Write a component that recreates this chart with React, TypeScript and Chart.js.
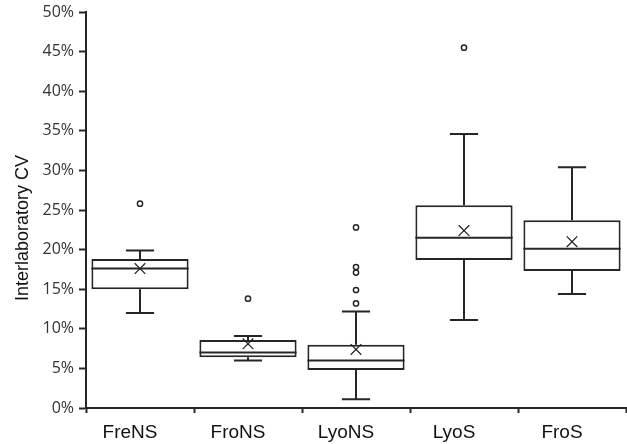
import { useEffect, useRef } from 'react';
import { Chart, registerables } from 'chart.js';

Chart.register(...registerables);

const categories = ['FreNS', 'FroNS', 'LyoNS', 'LyoS', 'FroS'];
const whiskerMin = [12.0, 6.0, 1.1, 11.1, 14.4];
const q1 = [15.0, 6.4, 4.8, 18.7, 17.3];
const median = [17.6, 7.0, 6.0, 21.5, 20.1];
const q3 = [18.8, 8.6, 8.0, 25.6, 23.7];
const whiskerMax = [19.9, 9.1, 12.2, 34.6, 30.4];
const means = [17.6, 8.1, 7.4, 22.4, 21.0];
const outliers = [[25.8], [13.8], [22.8, 17.8, 17.1, 14.9, 13.2], [45.5], []];
const yTickMax = 50;
const yTickStep = 5;

const LINE = '#262626';

export default function App() {
  const ref = useRef<HTMLCanvasElement>(null);

  useEffect(() => {
    if (!ref.current) return;

    const boxLines = {
      id: 'boxLines',
      afterDatasetsDraw(chart: any) {
        const ctx = chart.ctx;
        const y = chart.scales.y;
        const meta = chart.getDatasetMeta(0);
        ctx.save();
        ctx.strokeStyle = LINE;
        ctx.lineWidth = 2;
        meta.data.forEach((bar: any, i: number) => {
          const cx = bar.x;
          const half = bar.width / 2;
          const cap = bar.width * 0.145;
          const yMed = y.getPixelForValue(median[i]);
          const yQ1 = y.getPixelForValue(q1[i]);
          const yQ3 = y.getPixelForValue(q3[i]);
          const yMin = y.getPixelForValue(whiskerMin[i]);
          const yMax = y.getPixelForValue(whiskerMax[i]);
          ctx.beginPath();
          ctx.moveTo(cx - half, yMed);
          ctx.lineTo(cx + half, yMed);
          ctx.moveTo(cx, yQ3);
          ctx.lineTo(cx, yMax);
          ctx.moveTo(cx - cap, yMax);
          ctx.lineTo(cx + cap, yMax);
          ctx.moveTo(cx, yQ1);
          ctx.lineTo(cx, yMin);
          ctx.moveTo(cx - cap, yMin);
          ctx.lineTo(cx + cap, yMin);
          ctx.stroke();
        });
        ctx.restore();
      },
    };

    const outlierPoints = outliers.flatMap((vals, i) =>
      vals.map((v) => ({ x: categories[i], y: v }))
    );

    const zeroPad = (s: any) => {
      s.paddingTop = 0;
      s.paddingBottom = 0;
      s.paddingLeft = 0;
      s.paddingRight = 0;
    };

    const chart = new Chart(ref.current, {
      type: 'bar',
      data: {
        labels: categories,
        datasets: [
          {
            type: 'bar',
            data: q1.map((v, i) => [v, q3[i]]) as any,
            backgroundColor: '#ffffff',
            borderColor: LINE,
            borderWidth: 2,
            borderSkipped: false,
            barPercentage: 0.9,
            categoryPercentage: 1,
            order: 3,
          },
          {
            type: 'line',
            data: means,
            showLine: false,
            pointStyle: 'crossRot',
            pointRadius: 7.5,
            pointBorderWidth: 1.3,
            pointBorderColor: LINE,
            pointBackgroundColor: LINE,
            order: 1,
          } as any,
          {
            type: 'line',
            data: outlierPoints as any,
            showLine: false,
            pointStyle: 'circle',
            pointRadius: 2.6,
            pointBorderWidth: 1.5,
            pointBorderColor: LINE,
            pointBackgroundColor: '#ffffff',
            order: 0,
          } as any,
        ],
      },
      options: {
        responsive: false,
        animation: false,
        events: [],
        layout: { autoPadding: false, padding: { top: 12, right: 1, bottom: 0, left: 0 } },
        plugins: {
          legend: { display: false },
          tooltip: { enabled: false },
          title: {
            display: true,
            text: 'Interlaboratory CV',
            position: 'left',
            color: '#111',
            font: { family: 'Liberation Sans', size: 18, weight: 'normal' },
            padding: { top: 12, bottom: 0 },
          },
        },
        scales: {
          x: {
            type: 'category',
            offset: true,
            grid: {
              display: true,
              drawOnChartArea: false,
              drawTicks: true,
              tickLength: 5,
              tickWidth: 2,
              tickColor: LINE,
              offset: true,
            },
            border: { display: true, color: LINE, width: 2 },
            ticks: {
              color: '#111',
              font: { family: 'Liberation Sans', size: 19 },
              padding: 8,
              labelOffset: -10,
              maxRotation: 0,
              autoSkip: false,
            },
            afterFit(s: any) {
              s.height = 36;
              zeroPad(s);
            },
          },
          y: {
            min: 0,
            max: yTickMax,
            grid: {
              display: true,
              drawOnChartArea: false,
              drawTicks: true,
              tickLength: 7,
              tickWidth: 2,
              tickColor: LINE,
            },
            border: { display: true, color: LINE, width: 2 },
            ticks: {
              stepSize: yTickStep,
              color: '#333',
              font: { family: 'Open Sans', size: 16 },
              padding: 5,
              callback: (v: any) => v + '%',
            },
            afterFit(s: any) {
              s.width = 52.4;
              zeroPad(s);
            },
          },
        },
      },
      plugins: [boxLines],
    });

    return () => chart.destroy();
  }, []);

  return (
    <div style={{ position: 'absolute', left: 0, top: 0, width: 627, height: 444, background: '#fff' }}>
      <canvas ref={ref} width={627} height={444} style={{ display: 'block' }} />
    </div>
  );
}
